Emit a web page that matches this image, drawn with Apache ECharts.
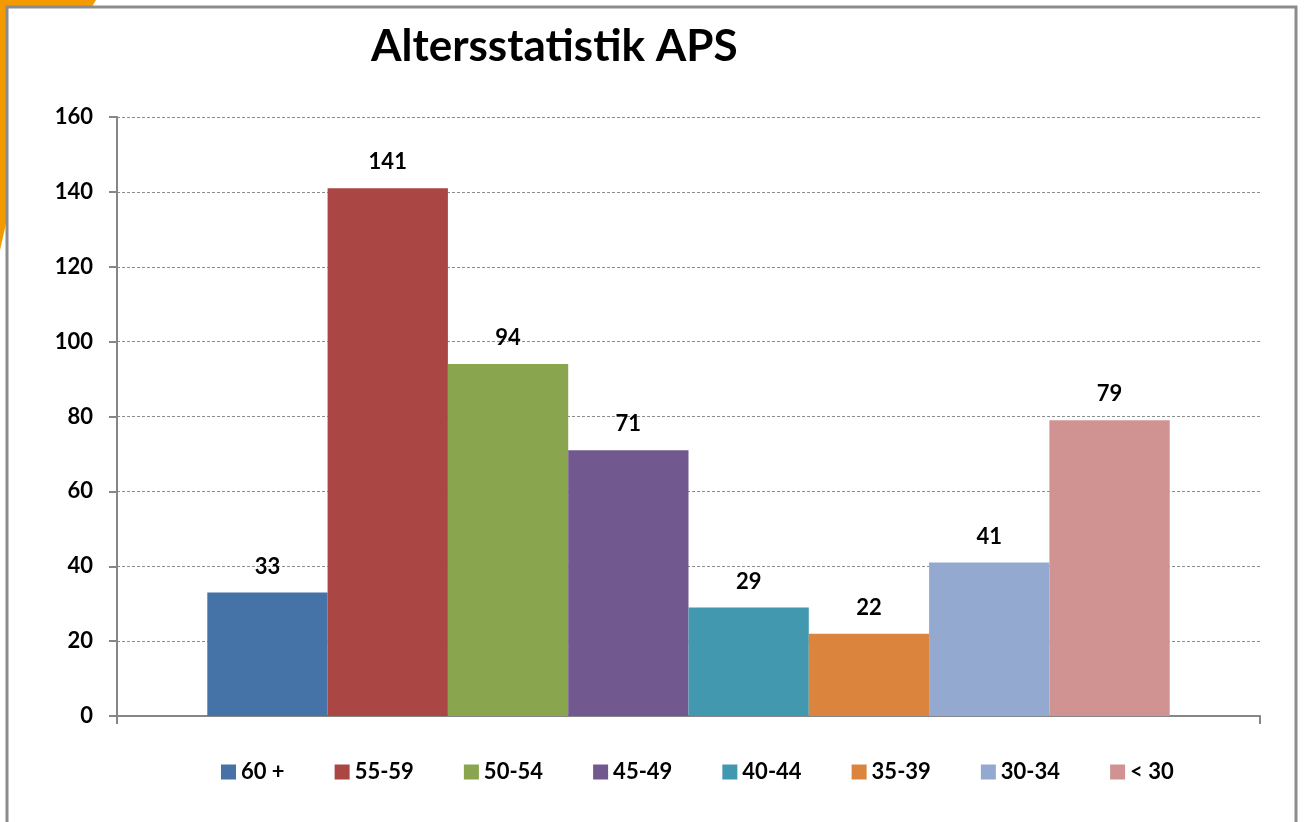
<!DOCTYPE html>
<html>
<head>
<meta charset="utf-8">
<script src="https://cdn.jsdelivr.net/npm/echarts@6/dist/echarts.min.js"></script>
<style>
  html, body { margin: 0; padding: 0; background: #fff; }
  #chart { width: 1304px; height: 822px; }
</style>
</head>
<body>
<div id="chart"></div>
<script>
  const ageGroups = ['60 +', '55-59', '50-54', '45-49', '40-44', '35-39', '30-34', '< 30'];
  const counts = [33, 141, 94, 71, 29, 22, 41, 79];
  const barColors = ['#4572A7', '#AA4643', '#89A54E', '#71588F', '#4198AF', '#DB843D', '#93A9CF', '#D19392'];
  const yTicks = [0, 20, 40, 60, 80, 100, 120, 140, 160];

  const font = 'Lato, "Open Sans", sans-serif';

  const chart = echarts.init(document.getElementById('chart'));

  // one series per age group, all in a single category
  const series = ageGroups.map((name, i) => ({
    name: name,
    type: 'bar',
    data: [counts[i]],
    barGap: '0%',
    barCategoryGap: '15.8%',
    itemStyle: { color: barColors[i] },
    label: {
      show: true,
      position: 'top',
      distance: 15,
      color: '#000',
      fontFamily: font,
      fontWeight: 'bold',
      fontSize: 22,
    },
  }));

  const option = {
    animation: false,
    backgroundColor: '#fff',
    graphic: [
      {
        type: 'polygon',
        z: -20,
        shape: { points: [[0, 0], [96, 0], [60, 60], [25, 140], [8, 215], [0, 250]] },
        style: { fill: '#F39A00' },
      },
      {
        type: 'rect',
        z: -10,
        shape: { x: 7, y: 7, width: 1289, height: 840 },
        style: { fill: '#fff', stroke: '#8C8C8C', lineWidth: 3 },
      },
    ],
    title: {
      text: 'Altersstatistik APS',
      left: 366,
      top: 20,
      textStyle: {
        fontFamily: font,
        fontWeight: 'bold',
        fontSize: 44,
        color: '#000',
      },
    },
    legend: {
      top: 756,
      left: 216,
      itemWidth: 15,
      itemHeight: 15,
      itemGap: 50,
      icon: 'rect',
      data: ageGroups,
      textStyle: {
        fontFamily: font,
        fontWeight: 'bold',
        fontSize: 22,
        color: '#000',
      },
    },
    grid: {
      left: 117,
      right: 44,
      top: 117,
      bottom: 106,
    },
    xAxis: {
      type: 'category',
      data: [''],
      axisLine: { lineStyle: { color: '#868686', width: 2 } },
      axisTick: { show: true, length: 8, lineStyle: { color: '#868686', width: 2 } },
      axisLabel: { show: false },
    },
    yAxis: {
      type: 'value',
      min: yTicks[0],
      max: yTicks[yTicks.length - 1],
      interval: 20,
      axisLine: { show: true, lineStyle: { color: '#868686', width: 2 } },
      axisTick: { show: true, length: 8, lineStyle: { color: '#868686', width: 2 } },
      axisLabel: {
        margin: 24,
        color: '#000',
        fontFamily: font,
        fontWeight: 'bold',
        fontSize: 22,
      },
      splitLine: {
        show: true,
        lineStyle: { color: '#8C8C8C', type: [3, 2], width: 1 },
      },
    },
    series: series,
  };

  chart.setOption(option);

  window.addEventListener('resize', function () {
    chart.resize();
  });
</script>
</body>
</html>
